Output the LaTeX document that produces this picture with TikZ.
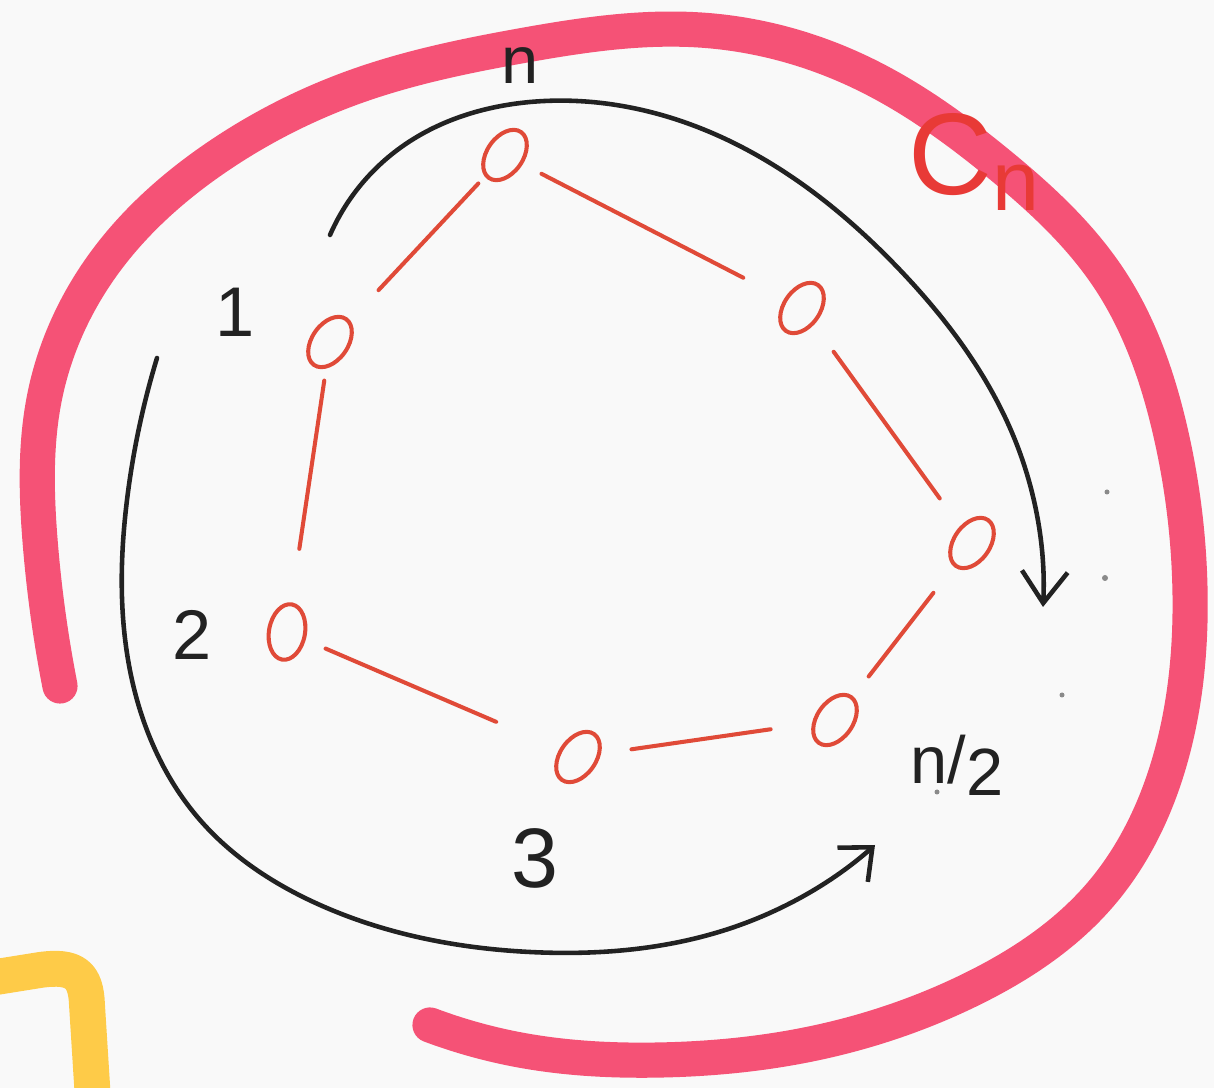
\documentclass[tikz,border=0pt]{standalone}
\usepackage{fontspec}
\setmainfont{Liberation Sans}
\usetikzlibrary{arrows.meta,shapes.geometric,hobby}
\definecolor{bg}{HTML}{F9F9F9}
\definecolor{pinkred}{HTML}{F53C64}
\definecolor{edgered}{HTML}{E04A38}
\definecolor{cnred}{HTML}{E83A36}
\definecolor{ink}{HTML}{222222}
\definecolor{yel}{HTML}{FFC83A}
\definecolor{dotgrey}{HTML}{8A8A8A}
\begin{document}
\begin{tikzpicture}[x=0.01cm,y=-0.01cm,
  vtx/.style={ellipse,draw=edgered,line width=1.15pt,minimum width=0.36cm,minimum height=0.56cm,inner sep=0pt,rotate=-35},
  redge/.style={edgered,line width=1.15pt,line cap=round},
  inkline/.style={ink,line width=1.3pt,line cap=round,line join=round},
  lab/.style={ink,font=\fontsize{20}{24}\selectfont},
  hl/.style={line width=10pt,line cap=round,line join=round}
]
\useasboundingbox (0,0) rectangle (1214,1088);
\fill[bg] (0,0) rectangle (1214,1088);
\clip (0,0) rectangle (1214,1088);

% big highlighter stroke C_n
\draw[hl,pinkred,opacity=0.88,use Hobby shortcut]
 (60,686) .. (40,540) .. (45,395) .. (105,262) .. (217,157) .. (360,85) .. (520,46) .. (700,30)
 .. (860,72) .. (1000,165) .. (1110,280) .. (1170,430) .. (1190,590) .. (1170,760) .. (1100,895)
 .. (970,990) .. (820,1042) .. (660,1060) .. (520,1050) .. (430,1025);

% yellow stroke
\draw[yel,line width=10.2pt,line join=round,opacity=0.92]
  (-10,978) -- (40,970) .. controls (75,965) and (86,975) .. (87,1005) -- (93,1100);

% vertices
\node[vtx] (v1) at (330,342) {};
\node[vtx] (vn) at (505,155) {};
\node[vtx] (vtr) at (802,308) {};
\node[vtx] (vr) at (972,543) {};
\node[vtx] (vh) at (835,720) {};
\node[vtx] (vb) at (578,757) {};
\node[vtx,rotate=25] (v2) at (287,632) {};

% edges
\draw[redge,shorten <=0.71cm,shorten >=0.39cm] (v1.center) -- (vn.center);
\draw[redge,shorten <=0.41cm,shorten >=0.66cm] (vn.center) -- (vtr.center);
\draw[redge,shorten <=0.54cm,shorten >=0.55cm] (vtr.center) -- (vr.center);
\draw[redge,shorten <=0.63cm,shorten >=0.55cm] (vr.center) -- (vh.center);
\draw[redge,shorten <=0.65cm,shorten >=0.54cm] (vh.center) -- (vb.center);
\draw[redge,shorten <=0.89cm,shorten >=0.42cm] (vb.center) -- (v2.center);
\draw[redge,shorten <=0.84cm,shorten >=0.39cm] (v2.center) -- (v1.center);

% arrows
\coordinate (a1s) at (330,235);
\coordinate (a1e) at (1043,607);
\draw[inkline,use Hobby shortcut,-{Straight Barb[length=9pt,width=13pt,line width=1.3pt]}]
  (a1s) .. (400,148) .. (530,102) .. (700,128) .. (900,270) .. (1017,445) .. (a1e);
\coordinate (a2s) at (157,358);
\coordinate (a2e) at (875,845);
\draw[inkline,use Hobby shortcut,-{Straight Barb[length=7.5pt,width=13pt,line width=1.3pt]}]
  (a2s) .. (127,500) .. (132,680) .. (200,820) .. (320,905) .. (530,952) .. (740,925) .. (a2e);

% labels
\node[lab,font=\fontsize{19}{22}\selectfont] (ln) at (520,66) {n};
\node[lab] (l1) at (235,312) {1};
\node[lab] (l2) at (192,635) {2};
\node[lab,font=\fontsize{24}{28}\selectfont] (l3) at (535,858) {3};
\node[lab,font=\fontsize{19}{22}\selectfont] (lh) at (957,765) {n/\raisebox{-0.35ex}{2}};
\node[text=cnred,font=\fontsize{33}{38}\selectfont,inner sep=0pt] (lc) at (950,155) {C};
\node[text=cnred,font=\fontsize{24}{28}\selectfont,inner sep=0pt] (lcn) at (1016,188) {n};

% stray dots
\fill[dotgrey] (1107,492) circle (2.5);
\fill[dotgrey] (1105,578) circle (3);
\fill[dotgrey] (1062,695) circle (2.5);
\fill[dotgrey] (937,792) circle (2.5);
\end{tikzpicture}
\end{document}
